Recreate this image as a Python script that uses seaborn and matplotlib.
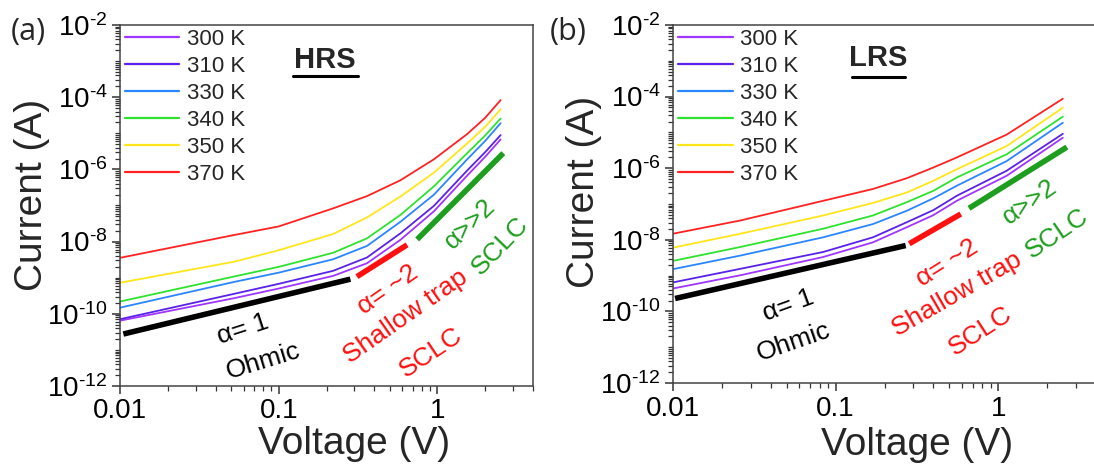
import numpy as np
import pandas as pd
import matplotlib
matplotlib.use("Agg")
import matplotlib.pyplot as plt
import seaborn as sns
from matplotlib.ticker import LogLocator, FuncFormatter, NullFormatter, FixedLocator, FixedFormatter

# ---------------- data (currents stored as log10(I / A)) ----------------
temps = ["300 K", "310 K", "330 K", "340 K", "350 K", "370 K"]
colors = ["#A035FF", "#5A22E8", "#2A86FF", "#2EE22E", "#FFE61A", "#FF2222"]

# HRS panel
hrs_V = [0.01, 0.052, 0.1, 0.22, 0.36, 0.585, 0.95, 1.54, 2.0, 2.5]
hrs_300 = [-10.19, -9.57, -9.30, -8.95, -8.60, -7.95, -7.16, -6.17, -5.65, -5.17]
hrs_310 = [-10.15, -9.45, -9.17, -8.81, -8.44, -7.77, -7.01, -6.03, -5.52, -5.05]
hrs_330 = [-9.83, -9.12, -8.86, -8.49, -8.12, -7.45, -6.70, -5.72, -5.21, -4.72]
hrs_340 = [-9.66, -8.97, -8.70, -8.31, -7.91, -7.26, -6.47, -5.55, -5.06, -4.59]
hrs_350 = [-9.14, -8.56, -8.24, -7.79, -7.33, -6.75, -6.09, -5.28, -4.82, -4.34]
hrs_370 = [-8.45, -7.82, -7.58, -7.08, -6.74, -6.30, -5.72, -5.02, -4.57, -4.08]

# LRS panel
lrs_V = [0.01, 0.026, 0.084, 0.17, 0.274, 0.4, 0.557, 1.13, 2.5]
lrs_300 = [-9.36, -8.99, -8.48, -8.07, -7.65, -7.31, -6.91, -6.21, -5.15]
lrs_310 = [-9.19, -8.81, -8.34, -7.93, -7.51, -7.17, -6.77, -6.07, -5.04]
lrs_330 = [-8.82, -8.44, -7.93, -7.56, -7.19, -6.84, -6.49, -5.80, -4.73]
lrs_340 = [-8.59, -8.20, -7.69, -7.32, -6.95, -6.63, -6.26, -5.61, -4.56]
lrs_350 = [-8.22, -7.83, -7.32, -6.97, -6.68, -6.35, -6.03, -5.38, -4.31]
lrs_370 = [-7.83, -7.46, -6.91, -6.58, -6.28, -5.98, -5.70, -5.06, -4.06]

# guide lines (slope fits)
hrs_ohmic_V, hrs_ohmic_logI = [0.0105, 0.283], [-10.56, -9.04]
hrs_trap_V, hrs_trap_logI = [0.311, 0.644], [-8.97, -8.09]
hrs_sclc_V, hrs_sclc_logI = [0.745, 2.6], [-7.94, -5.55]
lrs_ohmic_V, lrs_ohmic_logI = [0.0103, 0.27], [-9.64, -8.16]
lrs_trap_V, lrs_trap_logI = [0.284, 0.589], [-8.11, -7.28]
lrs_sclc_V, lrs_sclc_logI = [0.662, 2.65], [-7.12, -5.41]

x_ticks = [0.01, 0.1, 1]
x_tick_labels = ["0.01", "0.1", "1"]

# ---------------- style ----------------
sns.set_style("ticks")
plt.rcParams["font.family"] = ["Liberation Sans", "DejaVu Sans"]
plt.rcParams["mathtext.fontset"] = "custom"
plt.rcParams["mathtext.rm"] = "Liberation Sans"
plt.rcParams["mathtext.it"] = "Liberation Sans:italic"
plt.rcParams["mathtext.bf"] = "Liberation Sans:bold"
plt.rcParams["mathtext.default"] = "regular"
plt.rcParams["axes.unicode_minus"] = False

fig = plt.figure(figsize=(10.94, 4.74), dpi=100)
W, H = 1094, 474
ax1 = fig.add_axes([120 / W, 1 - 386 / H, 413 / W, 361 / H])
ax2 = fig.add_axes([673 / W, 1 - 383 / H, 423 / W, 358 / H])

palette = dict(zip(temps, colors))


def long_df(V, series):
    rows = []
    for t, vals in zip(temps, series):
        for v, li in zip(V, vals):
            rows.append({"V": v, "I": 10.0 ** li, "T": t})
    return pd.DataFrame(rows)


def guide(ax, V, logI, color):
    d = pd.DataFrame({"V": V, "I": [10.0 ** l for l in logI]})
    sns.lineplot(data=d, x="V", y="I", ax=ax, color=color, lw=4.0,
                 estimator=None, sort=False, legend=False, solid_capstyle="butt")


def fmt_y(v, pos):
    e = int(round(np.log10(v)))
    return r"$10^{\text{-}%d}$" % abs(e) if e < 0 else r"$10^{%d}$" % e


panels = [
    (ax1, hrs_V, [hrs_300, hrs_310, hrs_330, hrs_340, hrs_350, hrs_370],
     (hrs_ohmic_V, hrs_ohmic_logI), (hrs_trap_V, hrs_trap_logI), (hrs_sclc_V, hrs_sclc_logI)),
    (ax2, lrs_V, [lrs_300, lrs_310, lrs_330, lrs_340, lrs_350, lrs_370],
     (lrs_ohmic_V, lrs_ohmic_logI), (lrs_trap_V, lrs_trap_logI), (lrs_sclc_V, lrs_sclc_logI)),
]

for ax, V, series, ohm, trap, sclc in panels:
    df = long_df(V, series)
    sns.lineplot(data=df, x="V", y="I", hue="T", hue_order=temps, palette=palette,
                 ax=ax, lw=1.3, estimator=None, legend=True)
    guide(ax, ohm[0], ohm[1], "black")
    guide(ax, trap[0], trap[1], "#FF1010")
    guide(ax, sclc[0], sclc[1], "#1E9E1E")

    ax.set_xscale("log")
    ax.set_yscale("log")
    ax.set_xlim(0.01, 4.0)
    ax.set_ylim(1e-12, 1e-2)

    ax.xaxis.set_major_locator(FixedLocator(x_ticks))
    ax.xaxis.set_major_formatter(FixedFormatter(x_tick_labels))
    ax.xaxis.set_minor_locator(LogLocator(base=10, subs=np.arange(2, 10)))
    ax.xaxis.set_minor_formatter(NullFormatter())
    ax.yaxis.set_major_locator(LogLocator(base=100, numticks=20))
    ax.yaxis.set_major_formatter(FuncFormatter(fmt_y))
    ax.yaxis.set_minor_locator(LogLocator(base=10, subs=np.arange(1, 10), numticks=40))
    ax.yaxis.set_minor_formatter(NullFormatter())

    ax.tick_params(which="major", direction="out", length=6, width=1.1, labelsize=20,
                   colors="#333333", labelcolor="black", pad=3)
    ax.tick_params(which="minor", direction="out", length=3.5, width=0.9, colors="#333333")
    for s in ax.spines.values():
        s.set_visible(True)
        s.set_color("#444444")
        s.set_linewidth(1.1)

    ax.set_xlabel("Voltage (V)", fontsize=28)
    ax.set_ylabel("Current (A)", fontsize=28)

    handles, labels = ax.get_legend_handles_labels()
    leg = ax.legend(handles, labels, loc="upper left", bbox_to_anchor=(0.012, 0.99),
                    frameon=False, fontsize=16, handlelength=2.45, handletextpad=0.35,
                    labelspacing=0.27, borderpad=0, borderaxespad=0)
    for lh in leg.get_lines():
        lh.set_linewidth(1.6)

ax1.xaxis.set_label_coords(0.567, -0.112)
ax1.yaxis.set_label_coords(-0.169, 0.528)
ax2.xaxis.set_label_coords(0.577, -0.122)
ax2.yaxis.set_label_coords(-0.168, 0.535)

# state labels with underline
ax1.text(0.496, 0.903, "HRS", transform=ax1.transAxes, ha="center", va="center",
         fontsize=21, fontweight="bold")
ax1.plot([0.419, 0.576], [0.858, 0.858], transform=ax1.transAxes, color="black", lw=2.2,
         clip_on=False)
ax2.text(0.485, 0.908, "LRS", transform=ax2.transAxes, ha="center", va="center",
         fontsize=21, fontweight="bold")
ax2.plot([0.423, 0.548], [0.856, 0.856], transform=ax2.transAxes, color="black", lw=2.2,
         clip_on=False)

fig.text(28 / W, 1 - 32 / H, "(a)", family=["Open Sans", "DejaVu Sans"], fontsize=22,
         ha="center", va="center")
fig.text(568 / W, 1 - 32 / H, "(b)", family=["Open Sans", "DejaVu Sans"], fontsize=22,
         ha="center", va="center")

# annotations (data coordinates)
black, red, green = "black", "#FF1010", "#1E9E1E"
ann_hrs = [
    ("α= 1", 0.0597, -10.42, 18, black),
    ("Ohmic", 0.080, -11.30, 17, black),
    ("α= ~2", 0.49, -9.33, 35, red),
    ("Shallow trap", 0.628, -10.07, 35, red),
    ("SCLC", 0.91, -11.08, 34, red),
    ("α>>2", 1.61, -7.50, 44, green),
    ("SCLC", 2.49, -8.12, 46, green),
]
ann_lrs = [
    ("α= 1", 0.0513, -9.84, 20, black),
    ("Ohmic", 0.055, -10.86, 19, black),
    ("α= ~2", 0.483, -8.64, 32, red),
    ("Shallow trap", 0.557, -9.52, 30, red),
    ("SCLC", 0.783, -10.56, 33, red),
    ("α>>2", 1.57, -6.95, 35, green),
    ("SCLC", 2.30, -7.83, 34, green),
]
for ax, anns in [(ax1, ann_hrs), (ax2, ann_lrs)]:
    for txt, xv, ly, rot, col in anns:
        ax.text(xv, 10.0 ** ly, txt, color=col, fontsize=19, rotation=rot,
                rotation_mode="anchor", ha="center", va="center")

fig.savefig("out.png", dpi=100)
